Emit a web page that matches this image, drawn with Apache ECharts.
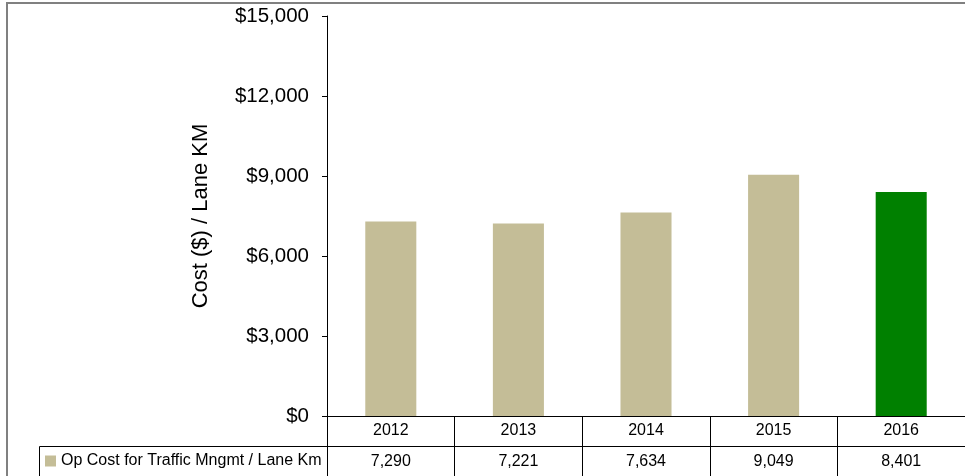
<!DOCTYPE html>
<html>
<head>
<meta charset="utf-8">
<script src="https://cdn.jsdelivr.net/npm/echarts@6/dist/echarts.min.js"></script>
<style>
html,body{margin:0;padding:0;background:#fff;}
#main{width:965px;height:476px;}
</style>
</head>
<body>
<div id="main"></div>
<script>
const categories = ['2012', '2013', '2014', '2015', '2016'];
const costValues = [7290, 7221, 7634, 9049, 8401];
const seriesName = 'Op Cost for Traffic Mngmt / Lane Km';
const highlightYear = '2016';
const yTicks = { min: 0, max: 15000, interval: 3000 };

const FONT = 'Arial, "Liberation Sans", sans-serif';
const TAN = '#C4BD97';
const GREEN = '#008000';

const chart = echarts.init(document.getElementById('main'), null, { renderer: 'canvas' });

const option = {
  animation: false,
  backgroundColor: '#fff',
  textStyle: { fontFamily: FONT },
  grid: { left: 327, right: 0, top: 16, bottom: 60, containLabel: false },
  legend: {
    show: true,
    left: 45,
    top: 453,
    padding: 0,
    itemWidth: 11,
    itemHeight: 11,
    icon: 'rect',
    itemGap: 5,
    selectedMode: false,
    textStyle: { fontSize: 16, color: '#000', fontFamily: FONT },
    data: [seriesName]
  },
  xAxis: [
    {
      type: 'category',
      data: categories,
      position: 'bottom',
      axisLine: { show: true, lineStyle: { color: '#000', width: 1 } },
      axisTick: { show: true, length: 62, lineStyle: { color: '#000', width: 1 } },
      axisLabel: { fontSize: 16, color: '#000', margin: 7, fontFamily: FONT },
      splitLine: { show: false }
    },
    {
      type: 'category',
      data: costValues.map(v => v.toLocaleString('en-US')),
      position: 'bottom',
      offset: 30,
      axisLine: { show: true, lineStyle: { color: '#000', width: 1 } },
      axisTick: { show: false },
      axisLabel: { fontSize: 16, color: '#000', margin: 8, fontFamily: FONT },
      splitLine: { show: false }
    }
  ],
  yAxis: {
    type: 'value',
    min: yTicks.min,
    max: yTicks.max,
    interval: yTicks.interval,
    name: 'Cost ($) / Lane KM',
    nameLocation: 'middle',
    nameRotate: 90,
    nameGap: 115,
    nameTextStyle: { fontSize: 22, color: '#000', fontFamily: FONT },
    axisLine: { show: true, lineStyle: { color: '#000', width: 1 } },
    axisTick: { show: true, length: 5, lineStyle: { color: '#000' } },
    axisLabel: {
      fontSize: 20.5, color: '#000', margin: 18, fontFamily: FONT,
      formatter: v => '$' + v.toLocaleString('en-US')
    },
    splitLine: { show: false }
  },
  series: [
    {
      name: seriesName,
      type: 'bar',
      xAxisIndex: 0,
      barWidth: '40%',
      itemStyle: { color: TAN },
      data: costValues.map((v, i) => categories[i] === highlightYear
        ? { value: v, itemStyle: { color: GREEN } }
        : v)
    }
  ],
  graphic: [
    {
      type: 'polyline',
      silent: true,
      shape: { points: [[39.5, 480], [39.5, 446.5], [327, 446.5]] },
      style: { stroke: '#000', lineWidth: 1, fill: null }
    },
    {
      type: 'rect',
      silent: true,
      shape: { x: 7, y: 3, width: 1000, height: 500 },
      style: { stroke: '#808080', lineWidth: 2, fill: null }
    }
  ]
};

chart.setOption(option);
</script>
</body>
</html>
